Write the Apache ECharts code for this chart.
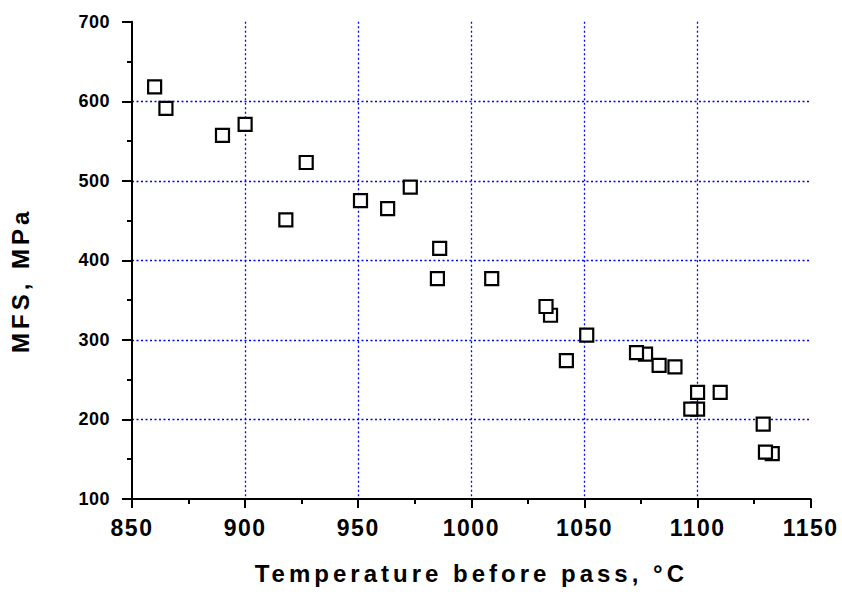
<!DOCTYPE html>
<html>
<head>
<meta charset="utf-8">
<script src="https://cdn.jsdelivr.net/npm/echarts@6/dist/echarts.min.js"></script>
<style>
  html, body { margin: 0; padding: 0; background: #fff; }
  #chart { width: 842px; height: 594px; }
  /* tracking of the reference's text (SVG renderer keeps text as <text>) */
  #chart text[style*="24px"] { letter-spacing: 4px; }
  #chart text[style*="23px"] { letter-spacing: 1.5px; }
  #chart text[style*="18px"] { letter-spacing: 0.5px; }
</style>
</head>
<body>
<div id="chart"></div>
<script>
// Temperature before pass (°C) and MFS (MPa).
// Ordered so that, in overlapping pairs, the left square is drawn on top.
const temperature = [1133, 1130, 1129, 1110, 1100, 1100, 1097, 1090, 1083, 1077, 1073, 1051, 1042, 1035, 1033, 1009, 986, 985, 973, 963, 951, 927, 918, 900, 890, 865, 860];
const mfs         = [ 157,  159,  194,  234,  213,  234,  213,  266,  268,  282,  284,  306,  274,  331,  342,  377, 415, 377, 492, 465, 475, 523, 451, 571, 557, 591, 618];

const xTicks = { min: 850, max: 1150, interval: 50 };
const yTicks = { min: 100, max: 700, interval: 100 };

const xTitle = 'Temperature before pass, °C';
const yTitle = 'MFS, MPa';

const points = temperature.map((t, i) => [t, mfs[i]]);

const fontFamily = '"Liberation Sans", Arial, sans-serif';
const gridLine = { show: true, showMinLine: false, showMaxLine: false,
  lineStyle: { color: '#0000ff', width: 1.3, type: [2, 2.5] } };

const chart = echarts.init(document.getElementById('chart'), null, { renderer: 'svg' });
chart.setOption({
  animation: false,
  backgroundColor: '#ffffff',
  grid: { left: 129.3, right: 31.3, top: 21.7, bottom: 95, containLabel: false },
  xAxis: {
    type: 'value',
    min: xTicks.min, max: xTicks.max, interval: xTicks.interval,
    name: xTitle, nameLocation: 'middle', nameGap: 62,
    nameTextStyle: { fontFamily, fontWeight: 'bold', fontSize: 24, color: '#000' },
    axisLine: { show: true, onZero: false, lineStyle: { color: '#000', width: 2 } },
    axisTick: { show: true, inside: false, length: 9, lineStyle: { color: '#000', width: 2 } },
    minorTick: { show: true, splitNumber: 2, length: 5, lineStyle: { color: '#000', width: 2 } },
    axisLabel: { margin: 17, fontFamily, fontWeight: 'bold', fontSize: 23, color: '#000',
      showMinLabel: true, showMaxLabel: true, formatter: v => String(v) },
    splitLine: gridLine
  },
  yAxis: {
    type: 'value',
    min: yTicks.min, max: yTicks.max, interval: yTicks.interval,
    name: yTitle, nameLocation: 'middle', nameGap: 100, nameRotate: 90,
    nameTextStyle: { fontFamily, fontWeight: 'bold', fontSize: 24, color: '#000', padding: [0, 40, 0, 0] },
    axisLine: { show: true, onZero: false, lineStyle: { color: '#000', width: 2 } },
    axisTick: { show: true, inside: false, length: 10, lineStyle: { color: '#000', width: 2 } },
    minorTick: { show: true, splitNumber: 2, length: 5, lineStyle: { color: '#000', width: 2 } },
    axisLabel: { margin: 22, fontFamily, fontWeight: 'bold', fontSize: 18, color: '#000',
      showMinLabel: true, showMaxLabel: true, formatter: v => String(v) },
    splitLine: gridLine
  },
  series: [{
    type: 'scatter',
    data: points,
    symbol: 'rect',
    symbolSize: 13,
    itemStyle: { color: '#ffffff', borderColor: '#000000', borderWidth: 2.2, opacity: 1 },
    emphasis: { disabled: true }
  }]
});
</script>
</body>
</html>
